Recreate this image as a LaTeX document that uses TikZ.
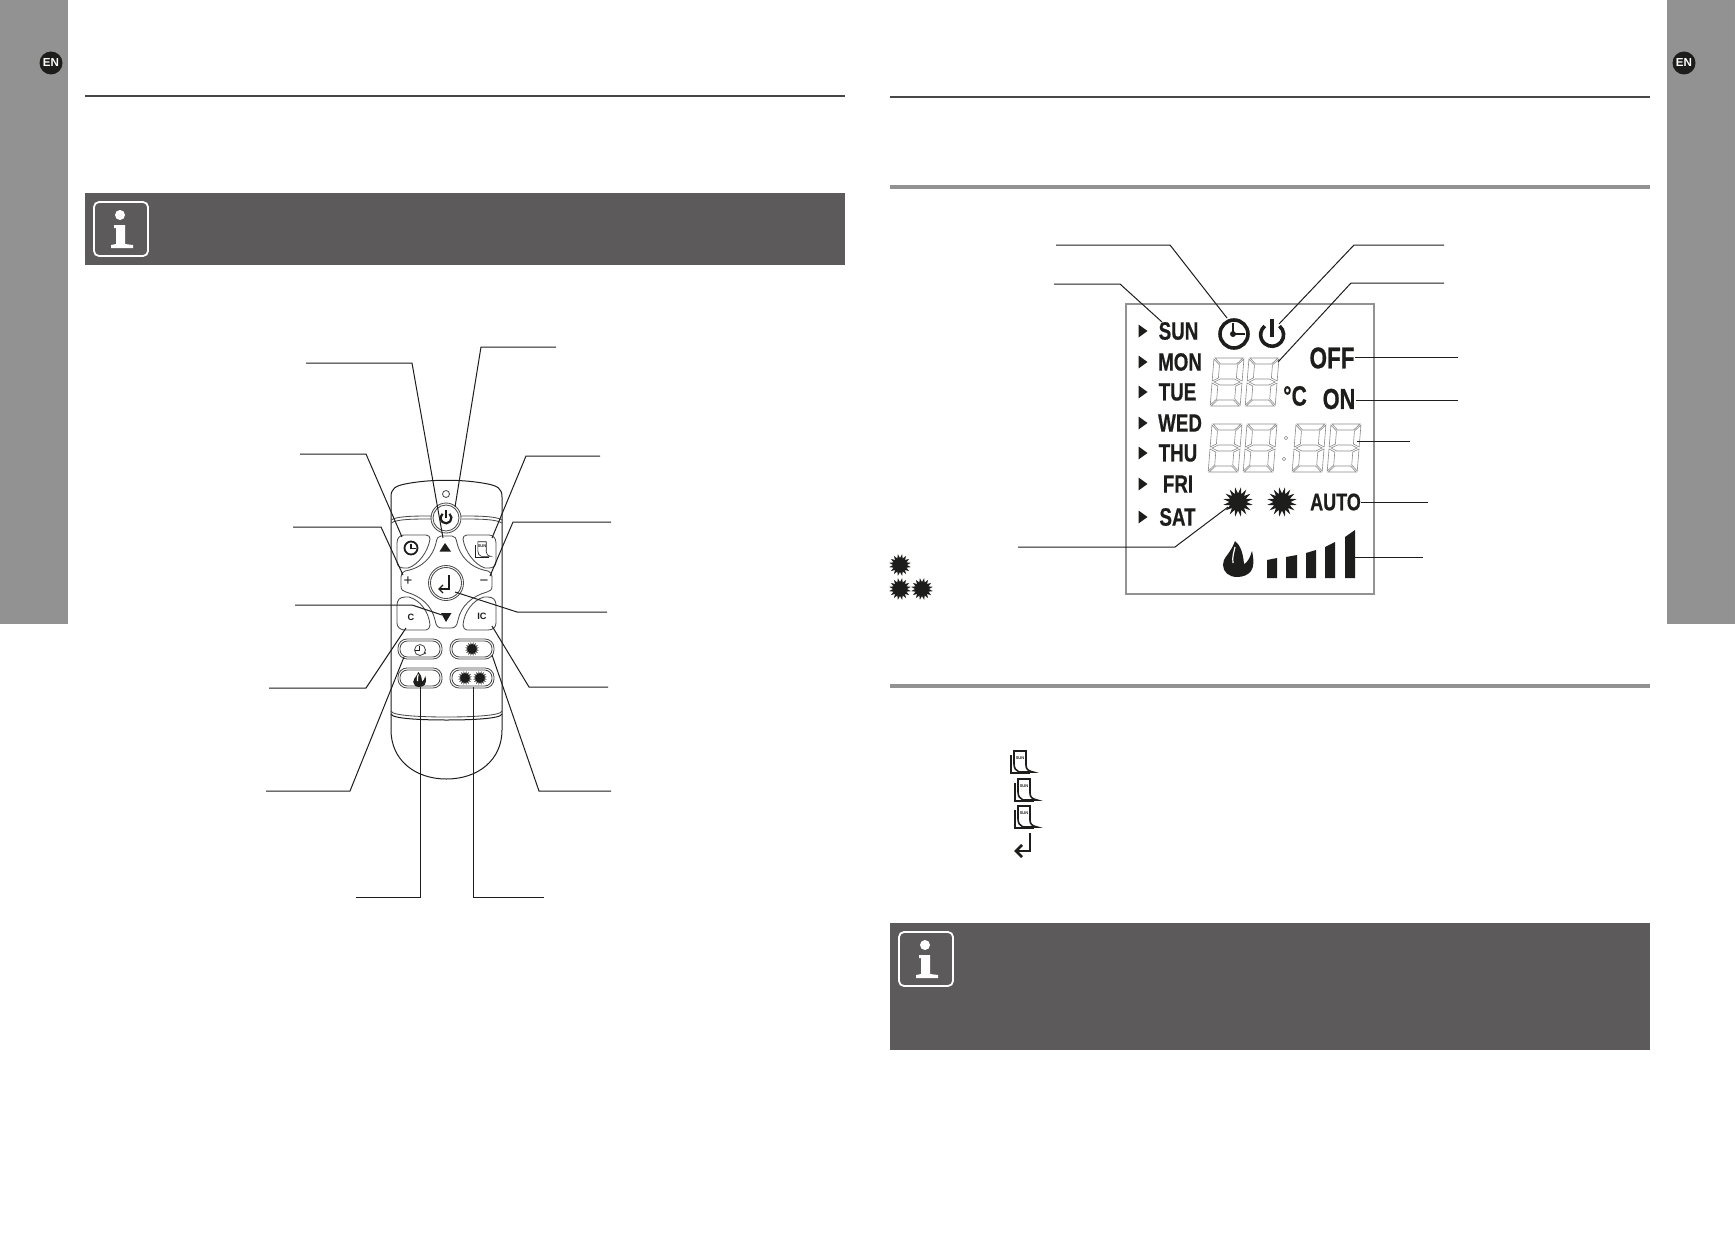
\documentclass[tikz,border=0pt]{standalone}
\usepackage{fontspec}
\setmainfont{Liberation Sans}
\newfontfamily\lcdfam{Liberation Sans}[FakeStretch=0.75,BoldFeatures={FakeBold=0.6}]
\definecolor{sidegray}{HTML}{929292}
\definecolor{boxgray}{HTML}{5C5A5B}
\definecolor{ink}{HTML}{1D1D1B}
\definecolor{segray}{HTML}{8A8A8A}
\tikzset{
  leader/.style={draw=ink,line width=0.5pt},
  body/.style={draw=ink,line width=0.5pt},
  keyline/.style={draw=ink!80,line width=0.42pt},
  toprule/.style={draw=black!72,line width=1pt},
  secrule/.style={draw=sidegray,line width=2pt},
  lcdtxt/.style={inner sep=0pt,text=ink},
  seg/.style={draw=segray,line width=0.3pt},
}
\newcommand{\lcdsize}[1]{\lcdfam\bfseries\fontsize{#1}{#1}\selectfont}
% a connector: free end, knee, target end
\newcommand{\leader}[4]{%
  \coordinate (#1s) at #2; \coordinate (#1k) at #3; \coordinate (#1e) at #4;
  \draw[leader] (#1s) -- (#1k) -- (#1e);}
\newcommand{\sunburst}[4]{%
  \fill[ink,shift={(#1,#2)}] (0:#4)
    \foreach \a in {0,22.5,...,337.5} { -- (\a:#4) -- (\a+11.25:#3) } -- cycle;}
\newcommand{\infoicon}[2]{%
  \begin{scope}[shift={(#1,#2)}]
    \draw[white,line width=0.9pt,rounded corners=2.5pt] (0,0) rectangle (54,54);
    \fill[white] (26,13) circle (5);
    \fill[white] (20,23) -- (31,23) -- (31,42) -- (39,43) -- (39,46) -- (17,46) -- (17,43) -- (22,42) -- (22,26) -- (20,26) -- cycle;
  \end{scope}}
\newcommand{\enbadge}[3]{%
  \node[circle,fill=ink,minimum size=11.5pt,inner sep=0pt,text=white,font=\bfseries\fontsize{5.8}{5.8}\selectfont] (#3) at (#1,#2) {EN};}
\newcommand{\lcddigit}[2]{%
  \begin{scope}[shift={(#1+4,#2)},xslant=0.08]
    \draw[seg] (1,0) -- (29,0) -- (23,6) -- (7,6) -- cycle;
    \draw[seg] (0,1) -- (6,7) -- (6,20) -- (0,23) -- cycle;
    \draw[seg] (30,1) -- (24,7) -- (24,20) -- (30,23) -- cycle;
    \draw[seg] (2,24) -- (8,21) -- (22,21) -- (28,24) -- (22,27) -- (8,27) -- cycle;
    \draw[seg] (0,25) -- (6,28) -- (6,41) -- (0,47) -- cycle;
    \draw[seg] (30,25) -- (24,28) -- (24,41) -- (30,47) -- cycle;
    \draw[seg] (1,48) -- (7,42) -- (23,42) -- (29,48) -- cycle;
  \end{scope}}
\newcommand{\flameicon}[3]{%
  \begin{scope}[shift={(#1,#2)},scale=#3]
    \fill[ink] (-1,19) .. controls (-9,19) and (-15,14) .. (-15,7)
      .. controls (-15,0) and (-10,-3) .. (-8,-7) .. controls (-6,-10) and (-4,-14) .. (-3,-17)
      .. controls (2,-13) and (5,-6) .. (6,6) .. controls (9,5) and (12,0) .. (14,-7)
      .. controls (16,2) and (16,9) .. (13,13) .. controls (10,17) and (5,19) .. (-1,19) -- cycle;
    \draw[white,line width=0.6pt] (-5,5) .. controls (-6,-1) and (-4,-6) .. (-3,-11);
  \end{scope}}
\newcommand{\manicon}[5]{%
  \begin{scope}[shift={(#1,#2)},scale=#3]
    \draw[ink,line width=#5] (1,5) -- (1,23) -- (20,23);
    \draw[ink,line width=#5,fill=white] (4,1) -- (16,1) -- (16,15) .. controls (16,19) and (18,21) .. (23,22) -- (9,22) .. controls (6,21) and (4,18) .. (4,14) -- cycle;
    \node[inner sep=0pt,text=ink,font=\bfseries\fontsize{2}{2}\selectfont] (#4) at (10,8) {SUN};
  \end{scope}}
\begin{document}
\begin{tikzpicture}[x=0.5pt,y=-0.5pt]
\useasboundingbox (0,0) rectangle (1735,1247);
% side bars
\fill[sidegray] (0,0) rectangle (68,624);
\fill[sidegray] (1667,0) rectangle (1735,624);
\enbadge{51}{63}{enleft}
\enbadge{1684}{63}{enright}
% rules
\draw[toprule] (85,96) -- (845,96);
\draw[toprule] (890,97) -- (1650,97);
\draw[secrule] (890,187) -- (1650,187);
\draw[secrule] (890,686) -- (1650,686);
% note boxes
\fill[boxgray] (85,193) rectangle (845,264.5);
\infoicon{94}{202}
\fill[boxgray] (890,923) rectangle (1650,1049.5);
\infoicon{899}{932}

% ---------- remote ----------
\draw[body] (391,730) -- (391,497) .. controls (391,488) and (396,486) .. (405,484)
  .. controls (430,479) and (463,479) .. (488,484) .. controls (497,486) and (502,488) .. (502,497)
  -- (502,730) .. controls (502,760) and (478,779) .. (446.5,779) .. controls (415,779) and (391,760) .. (391,730) -- cycle;
\draw[keyline] (391,520) .. controls (397,516) and (415,516) .. (432,516);
\draw[keyline] (391,523) .. controls (397,519) and (415,519) .. (431,519);
\draw[keyline] (502,520) .. controls (496,516) and (478,516) .. (461,516);
\draw[keyline] (502,523) .. controls (496,519) and (478,519) .. (462,519);
\draw[keyline] (391,711) .. controls (392,716) and (425,717) .. (446.5,717) .. controls (468,717) and (501,716) .. (502,711);
\draw[body] (391,714) .. controls (392,719) and (425,720) .. (446.5,720) .. controls (468,720) and (501,719) .. (502,714);
\draw[keyline] (446,494) circle (3.5);
\draw[keyline] (446,518) circle (15);
\draw[keyline] (446,518) circle (13);
% power glyph on the remote
\draw[ink,line width=1.1pt] (449.5,513.8) arc (-50:230:5.4 and 5.4);
\draw[ink,line width=1.1pt] (446,510) -- (446,518);
% keys
\draw[keyline] (397,543) .. controls (397,538) and (400,535) .. (404,535) -- (426,535) .. controls (429,535) and (430,537) .. (430,539)
  .. controls (428,552) and (418,565) .. (408,568) -- (404,568) .. controls (400,568) and (397,566) .. (397,562) -- cycle;
\draw[keyline] (496,543) .. controls (496,538) and (493,535) .. (489,535) -- (467,535) .. controls (464,535) and (463,537) .. (463,539)
  .. controls (465,552) and (475,565) .. (485,568) -- (489,568) .. controls (493,568) and (496,566) .. (496,562) -- cycle;
\draw[keyline] (441,536) -- (452,536) .. controls (455,536) and (456,538) .. (457,543) .. controls (460,556) and (470,568) .. (488,571)
  .. controls (491,572) and (492,574) .. (492,577) -- (492,586) .. controls (492,590) and (490,591) .. (487,592)
  .. controls (472,596) and (461,606) .. (458,620) .. controls (457,626) and (455,628) .. (451,628) -- (442,628)
  .. controls (438,628) and (436,626) .. (435,620) .. controls (432,606) and (421,596) .. (406,592)
  .. controls (403,591) and (401,590) .. (401,586) -- (401,577) .. controls (401,574) and (402,572) .. (405,571)
  .. controls (423,568) and (433,556) .. (436,543) .. controls (437,538) and (438,536) .. (441,536) -- cycle;
\draw[keyline] (397,605) .. controls (397,600) and (400,597) .. (405,597) -- (409,597) .. controls (420,600) and (429,612) .. (430,625)
  .. controls (430,628) and (428,630) .. (426,630) -- (405,630) .. controls (400,630) and (397,627) .. (397,623) -- cycle;
\draw[keyline] (496,605) .. controls (496,600) and (493,597) .. (488,597) -- (484,597) .. controls (473,600) and (464,612) .. (463,625)
  .. controls (463,628) and (465,630) .. (467,630) -- (488,630) .. controls (493,630) and (496,627) .. (496,623) -- cycle;
\draw[keyline] (446,583) circle (17.5);
\draw[keyline] (446,583) circle (15.5);
\draw[ink,line width=0.65pt] (449,575) -- (449,589) -- (439,589);
\draw[ink,line width=0.65pt] (443,585) -- (439,589) -- (443,593);
% triangles
\fill[ink] (445,543) -- (451,551.5) -- (439.5,551.5) -- cycle;
\fill[ink] (441,613) -- (451.5,613) -- (446,622) -- cycle;
% clock key glyph
\draw[ink,line width=0.9pt] (411,548) circle (6.5);
\draw[ink,line width=0.55pt] (411,543.5) -- (411,548.5) -- (415.5,548.5);
\manicon{475}{541}{0.7}{remman}{0.3pt}
\node[inner sep=0pt,font=\fontsize{7.5}{7.5}\selectfont,text=ink] (plus) at (408,581) {+};
\node[inner sep=0pt,font=\fontsize{7.5}{7.5}\selectfont,text=ink] (minus) at (484,583) {−};
\node[inner sep=0pt,font=\bfseries\fontsize{4.6}{4.6}\selectfont,text=ink] (ckey) at (411,617) {C};
\node[inner sep=0pt,font=\bfseries\fontsize{4.6}{4.6}\selectfont,text=ink] (ickey) at (482,616) {IC};
% pills
\draw[keyline,rounded corners=4.5pt] (398,639) rectangle (442,659);
\draw[keyline,rounded corners=3.7pt] (400,641) rectangle (440,657);
\draw[keyline,rounded corners=4.5pt] (450,639) rectangle (494,659);
\draw[keyline,rounded corners=3.7pt] (452,641) rectangle (492,657);
\draw[keyline,rounded corners=4.5pt] (398,668) rectangle (442,688);
\draw[keyline,rounded corners=3.7pt] (400,670) rectangle (440,686);
\draw[keyline,rounded corners=4.5pt] (450,668) rectangle (494,688);
\draw[keyline,rounded corners=3.7pt] (452,670) rectangle (492,686);
\draw[keyline] (420,650) circle (5.5);
\draw[ink,line width=0.35pt] (419,646) -- (419,650) -- (415,650);
\fill[ink] (425,653) circle (1);
\sunburst{472}{649}{7}{4.2}
\sunburst{465}{678}{7}{4.2}
\sunburst{480}{678}{7}{4.2}
\flameicon{419.5}{679}{0.42}
% remote leaders
\leader{a}{(306,363)}{(412,363)}{(443,538)}
\leader{b}{(556,347)}{(481,347)}{(455,507)}
\leader{c}{(300,454)}{(366,454)}{(402,537)}
\leader{d}{(600,456)}{(526,456)}{(492,538)}
\leader{e}{(293,527)}{(381,527)}{(403,575)}
\leader{f}{(611,522)}{(513,522)}{(490,576)}
\leader{g}{(295,605)}{(412,605)}{(442,615)}
\leader{h}{(607,612)}{(517,612)}{(455,592)}
\leader{i}{(269,688)}{(366,688)}{(406,628)}
\leader{j}{(608,687)}{(529,687)}{(492,626)}
\leader{k}{(266,791)}{(350,791)}{(404,657)}
\leader{l}{(611,791)}{(539,791)}{(492,655)}
\leader{m}{(356,897.5)}{(420.5,897.5)}{(420.5,687)}
\leader{n}{(544,897.5)}{(473.5,897.5)}{(473.5,687)}

% ---------- LCD ----------
\draw[draw=sidegray,line width=1.4pt] (1126,304) rectangle (1374,594);
\foreach \yy/\lab/\cx in {331/SUN/1178.5,362/MON/1180,392/TUE/1177.5,423/WED/1180,453/THU/1178,484/FRI/1178,517/SAT/1177.5}{
  \fill[ink] (1138.5,\yy-6.5) -- (1147.5,\yy) -- (1138.5,\yy+6.5) -- cycle;
  \node[lcdtxt,font=\lcdsize{12.5}] (day\lab) at (\cx,\yy) {\lab};
}
\draw[ink,line width=1.8pt] (1234,334) circle (14);
\fill[ink] (1233,334) circle (3);
\draw[ink,line width=1.1pt] (1233,323) -- (1233,334) -- (1245,334);
\draw[ink,line width=1.8pt] (1279.5,326) arc (-50:230:11.5 and 11.5);
\draw[ink,line width=1.8pt] (1272,319) -- (1272,337);
\lcddigit{1210}{358}
\lcddigit{1245}{358}
\lcddigit{1208}{424}
\lcddigit{1243}{424}
\lcddigit{1292}{424}
\lcddigit{1327}{424}
\draw[seg] (1286,438) circle (1.7);
\draw[seg] (1284,459) circle (1.7);
\node[lcdtxt,font=\lcdsize{14}] (degc) at (1295,396) {°C};
\node[lcdtxt,font=\lcdsize{15}] (off) at (1332,358) {OFF};
\node[lcdtxt,font=\lcdsize{14.5}] (on) at (1339,399) {ON};
\node[lcdtxt,font=\lcdsize{12}] (auto) at (1335.5,502) {AUTO};
\sunburst{1238}{502}{15}{8.5}
\sunburst{1282}{502}{15}{8.5}
\flameicon{1238}{558}{1}
\fill[ink] (1267,560) -- (1277,558) -- (1277,578) -- (1267,578) -- cycle;
\fill[ink] (1286,557) -- (1297,555) -- (1297,578) -- (1286,578) -- cycle;
\fill[ink] (1306,553) -- (1316,550) -- (1316,578) -- (1306,578) -- cycle;
\fill[ink] (1325,547) -- (1335,542) -- (1335,578) -- (1325,578) -- cycle;
\fill[ink] (1345,537) -- (1355,530) -- (1355,578) -- (1345,578) -- cycle;
% LCD leaders
\leader{p}{(1056,245)}{(1170,245)}{(1227,318)}
\leader{q}{(1054,284)}{(1120,284)}{(1162,322)}
\leader{r}{(1444,245)}{(1354,245)}{(1279,324)}
\leader{s}{(1444,283)}{(1351,283)}{(1278,362)}
\leader{t}{(1018,547)}{(1175,547)}{(1228,507)}
\coordinate (offend) at (1458,357); \draw[leader] (off.east) ++(0,-1) -- (offend);
\coordinate (onend) at (1458,400); \draw[leader] (on.east) ++(0,1) -- (onend);
\coordinate (timeA) at (1357,441); \coordinate (timeB) at (1410,441); \draw[leader] (timeA) -- (timeB);
\coordinate (autoend) at (1428,502); \draw[leader] (auto.east) -- (autoend);
\coordinate (barA) at (1355,557); \coordinate (barB) at (1423,557); \draw[leader] (barA) -- (barB);
% legend suns
\sunburst{900}{565}{11}{7}
\sunburst{900}{589}{11}{7}
\sunburst{922}{589}{11}{7}
% steps icons
\manicon{1010}{750}{1}{manA}{0.8pt}
\manicon{1014}{778}{1}{manB}{0.8pt}
\manicon{1014}{805}{1}{manC}{0.8pt}
\draw[ink,line width=1.4pt] (1030,833) -- (1030,851) -- (1016,851);
\draw[ink,line width=1.4pt] (1022,845) -- (1016,851) -- (1022,857);
\end{tikzpicture}
\end{document}
